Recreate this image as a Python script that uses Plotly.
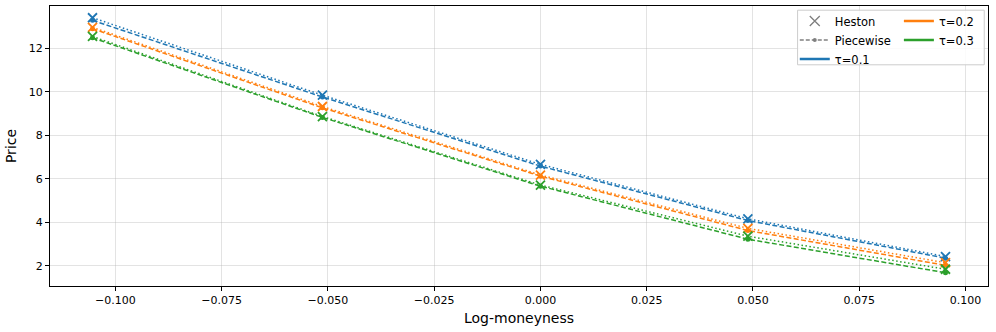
import plotly.graph_objects as go

# log-moneyness ln(K/S) for K = 90, 95, 100, 105, 110
log_moneyness = [-0.1054, -0.0513, 0.0, 0.0488, 0.0953]
taus = ["0.1", "0.2", "0.3"]

heston_prices = {
    "0.1": [13.40, 9.84, 6.66, 4.16, 2.42],
    "0.2": [12.96, 9.32, 6.17, 3.72, 2.14],
    "0.3": [12.54, 8.86, 5.71, 3.36, 1.84],
}
piecewise_prices = {
    "0.1": [13.28, 9.76, 6.58, 4.08, 2.35],
    "0.2": [12.90, 9.26, 6.12, 3.62, 2.02],
    "0.3": [12.48, 8.82, 5.66, 3.22, 1.68],
}

colors = {"0.1": "#1f77b4", "0.2": "#ff7f0e", "0.3": "#2ca02c"}
FONT = "DejaVu Sans"

fig = go.Figure()

for tau in taus:
    c = colors[tau]
    fig.add_trace(go.Scatter(
        x=log_moneyness, y=piecewise_prices[tau], mode="lines+markers",
        line=dict(color=c, width=1.5, dash="5px,2.4px"),
        marker=dict(symbol="circle", size=5, color=c),
        showlegend=False,
    ))
    fig.add_trace(go.Scatter(
        x=log_moneyness, y=heston_prices[tau], mode="lines+markers",
        line=dict(color=c, width=1.5, dash="1.5px,2.5px"),
        marker=dict(symbol="x-thin", size=9, line=dict(color=c, width=1.8)),
        showlegend=False,
    ))

# legend entries (column 1)
fig.add_trace(go.Scatter(
    x=[None], y=[None], mode="markers", name="Heston",
    marker=dict(symbol="x-thin", size=10, line=dict(color="gray", width=1.3)),
    legend="legend",
))
fig.add_trace(go.Scatter(
    x=[None], y=[None], mode="lines+markers", name="Piecewise",
    line=dict(color="gray", width=1.5, dash="4px,2px"),
    marker=dict(symbol="circle", size=4, color="gray"),
    legend="legend",
))
fig.add_trace(go.Scatter(
    x=[None], y=[None], mode="lines", name="τ=0.1",
    line=dict(color=colors["0.1"], width=2.5), legend="legend",
))
# legend entries (column 2)
for tau in taus[1:]:
    fig.add_trace(go.Scatter(
        x=[None], y=[None], mode="lines", name=f"τ={tau}",
        line=dict(color=colors[tau], width=2.5), legend="legend2",
    ))

legend_common = dict(
    bgcolor="rgba(0,0,0,0)", borderwidth=0,
    font=dict(family=FONT, size=11.5, color="black"),
    xanchor="left", yanchor="top", tracegroupgap=0,
)

fig.add_shape(
    type="rect", xref="paper", yref="paper",
    x0=0.797, x1=0.996, y0=0.79, y1=0.985,
    line=dict(color="#cccccc", width=1), fillcolor="rgba(255,255,255,0.85)",
    layer="above",
)

fig.update_layout(
    width=996, height=332,
    margin=dict(l=50, r=8, t=6, b=46),
    plot_bgcolor="white", paper_bgcolor="white",
    font=dict(family=FONT, size=11, color="black"),
    legend=dict(x=0.794, y=0.998, **legend_common),
    legend2=dict(x=0.905, y=0.998, **legend_common),
)

axis_common = dict(
    showline=True, linecolor="black", linewidth=1, mirror=True,
    ticks="outside", ticklen=4, tickcolor="black",
    showgrid=True, gridcolor="rgba(176,176,176,0.35)", gridwidth=1,
    zeroline=False, tickfont=dict(family=FONT, size=11, color="black"),
)

fig.update_xaxes(
    range=[-0.1154, 0.1053], dtick=0.025, tick0=0, tickformat=".3f",
    title=dict(text="Log-moneyness", font=dict(family=FONT, size=14), standoff=6),
    **axis_common,
)
fig.update_yaxes(
    range=[1.07, 13.94], dtick=2, tick0=0,
    title=dict(text="Price", font=dict(family=FONT, size=14), standoff=8),
    **axis_common,
)

fig.write_html(
    "out.html",
    config={"displayModeBar": False},
    post_script="document.body.style.margin='0';",
)
